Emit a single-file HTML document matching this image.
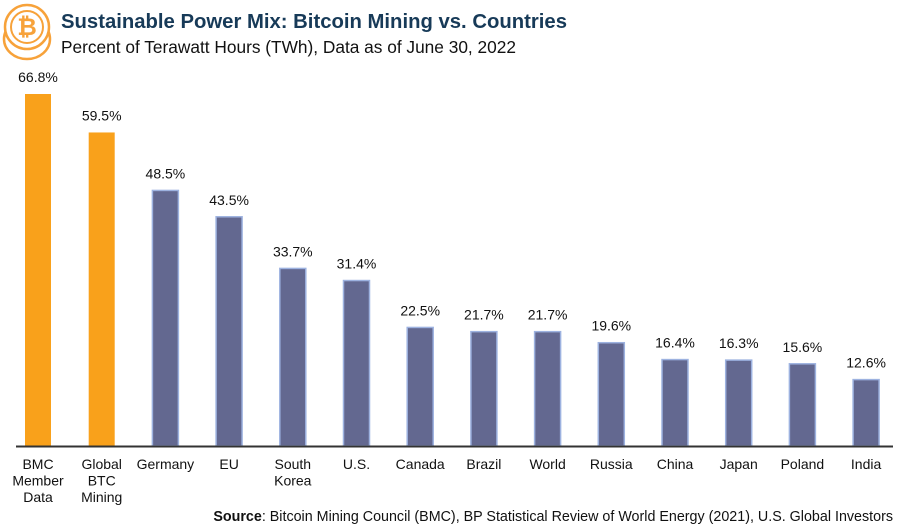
<!DOCTYPE html>
<html><head><meta charset="utf-8"><style>
body{margin:0;background:#fff;font-family:"Liberation Sans",sans-serif}
#wrap{position:relative;width:900px;height:527px;overflow:hidden}
</style></head><body><div id="wrap">
<svg width="900" height="527" id="svg">
<g>
<ellipse cx="27" cy="39" rx="23" ry="20" fill="none" stroke="#f7a23a" stroke-width="2.5"/>
<circle cx="27" cy="27" r="22" fill="#fff" stroke="#f7a23a" stroke-width="2.5"/>
<circle cx="27" cy="27" r="16" fill="none" stroke="#f7a23a" stroke-width="2"/>
<text x="27" y="35" text-anchor="middle" font-size="24" font-weight="bold" fill="#f7a23a">₿</text>
</g>
<text x="61" y="28" font-size="20.3" font-weight="bold" fill="#173a58">Sustainable Power Mix: Bitcoin Mining vs. Countries</text>
<text x="61" y="53" font-size="17.3" fill="#111">Percent of Terawatt Hours (TWh), Data as of June 30, 2022</text>
<g id="bars"></g>
<line x1="16" y1="446.5" x2="893" y2="446.5" stroke="#333" stroke-width="2"/>
<text x="893" y="521" text-anchor="end" font-size="14.3" fill="#111"><tspan font-weight="bold">Source</tspan>: Bitcoin Mining Council (BMC), BP Statistical Review of World Energy (2021), U.S. Global Investors</text>
</svg></div>
<script>
const categories=[["BMC","Member","Data"],["Global","BTC","Mining"],["Germany"],["EU"],["South","Korea"],["U.S."],["Canada"],["Brazil"],["World"],["Russia"],["China"],["Japan"],["Poland"],["India"]];
const values=[66.8,59.5,48.5,43.5,33.7,31.4,22.5,21.7,21.7,19.6,16.4,16.3,15.6,12.6];
const labels=["66.8%","59.5%","48.5%","43.5%","33.7%","31.4%","22.5%","21.7%","21.7%","19.6%","16.4%","16.3%","15.6%","12.6%"];
const base=446, scale=352/66.8;
const x=i=>38+i*63.7;
const y=v=>base-v*scale;
const g=document.getElementById('bars');
const NS="http://www.w3.org/2000/svg";
values.forEach((v,i)=>{
  const orange=i<2;
  const r=document.createElementNS(NS,'rect');
  r.setAttribute('x',x(i)-13);r.setAttribute('y',y(v));
  r.setAttribute('width',26);r.setAttribute('height',base-y(v));
  r.setAttribute('fill',orange?'#f9a11b':'#636890');
  if(!orange){r.setAttribute('stroke','#9db2e0');r.setAttribute('stroke-width','1.5');}
  
  
  g.appendChild(r);
  const t=document.createElementNS(NS,'text');
  t.setAttribute('x',x(i));t.setAttribute('y',y(v)-12);
  t.setAttribute('text-anchor','middle');t.setAttribute('font-size','14');t.setAttribute('fill','#111');
  t.textContent=labels[i];
  
  
  g.appendChild(t);
  categories[i].forEach((line,j)=>{
    const c=document.createElementNS(NS,'text');
    c.setAttribute('x',x(i));c.setAttribute('y',469+j*16.5);
    c.setAttribute('text-anchor','middle');c.setAttribute('font-size','14');c.setAttribute('fill','#111');
    c.textContent=line;
    
    
    g.appendChild(c);
  });
});
</script>
</body></html>
